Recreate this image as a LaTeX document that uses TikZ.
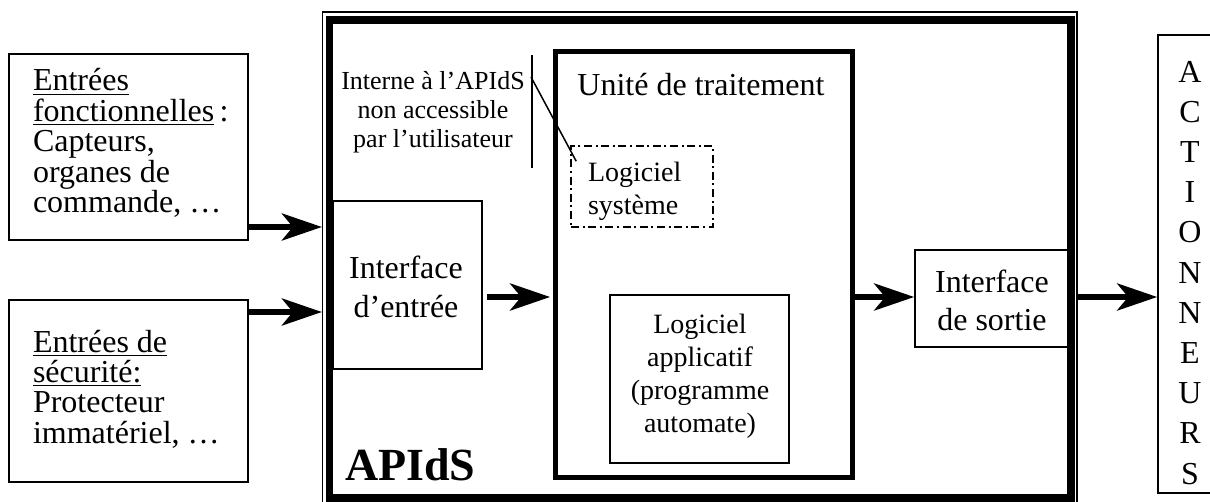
\documentclass[tikz,border=0pt]{standalone}
\usepackage{fontspec}
\setmainfont{Liberation Serif}
\usetikzlibrary{arrows.meta,fit,calc}
\newcommand\myfs[2]{\fontsize{#1}{#2}\selectfont}
\begin{document}
\begin{tikzpicture}[x=0.5pt,y=-0.5pt,
  frame/.style={draw, inner sep=0pt, line width=0.8pt},
  heavy/.style={draw, inner sep=0pt, line width=2.5pt},
  txt/.style={inner sep=0pt, outer sep=0pt},
  arr/.style={line width=3pt, -{Stealth[length=20pt,width=13.5pt,inset=5.5pt]}},
  thin/.style={line width=0.75pt}]
\useasboundingbox (0,0) rectangle (1210,502);

% left input boxes (base anchor = baseline of last line)
\node[frame, fit={(9,54)(248,240)}] (b1) {};
\node[txt, anchor=base west, align=left, font=\myfs{16}{15.25}] (t1) at (33,213)
  {\underline{Entrées}\\\underline{fonctionnelles}\,:\\Capteurs,\\organes de\\commande, …};
\node[frame, fit={(9,300)(248,482)}] (b2) {};
\node[txt, anchor=base west, align=left, font=\myfs{16}{15.1}] (t2) at (33,443)
  {\underline{Entrées de}\\\underline{sécurité:}\\Protecteur\\immatériel, …};

% APIdS outer double frame
\node[draw, inner sep=0pt, line width=0.6pt, fit={(322.5,12)(1077,507)}] (apio) {};
\node[draw, inner sep=0pt, line width=3.6pt, fit={(329.5,20)(1071,498)}] (apids) {};
\node[txt, anchor=base west, font=\bfseries\myfs{23}{23}] (lab) at (345,480) {APIdS};

% interface d'entree
\node[frame, fit={(333,201)(482,369)}] (ie) {};
\node[txt, anchor=base, align=center, font=\myfs{16}{19.5}] (tie) at (406,317) {Interface\\d’entrée};

% unite de traitement
\node[heavy, fit={(555,52)(852,477)}] (ut) {};
\node[txt, anchor=base, font=\myfs{16}{16}] (tut) at (701,96) {Unité de traitement};

% logiciel systeme
\node[draw, inner sep=0pt, line width=0.8pt, dash pattern=on 4pt off 1.8pt on 1pt off 1.8pt,
      fit={(571,146)(713,227)}] (ls) {};
\node[txt, anchor=base west, align=left, font=\myfs{14}{16.5}] (tls) at (588,215) {Logiciel\\système};

% logiciel applicatif
\node[frame, fit={(610,295)(789,463)}] (la) {};
\node[txt, anchor=base, align=center, font=\myfs{14}{16.5}] (tla) at (700,432)
  {Logiciel\\applicatif\\(programme\\automate)};

% interface de sortie
\node[frame, fit={(915,250)(1068,347)}] (is) {};
\node[txt, anchor=base, align=center, font=\myfs{16}{19}] (tis) at (992,330) {Interface\\de sortie};

% actionneurs
\node[frame, fit={(1158,35)(1230,493)}] (act) {};
\node[txt, anchor=base, align=center, font=\myfs{16}{20.1}] (tact) at (1190,484)
  {A\\C\\T\\I\\O\\N\\N\\E\\U\\R\\S};

% annotation
\node[txt, anchor=base, align=center, font=\myfs{13}{14.5}] (ann) at (433,148)
  {Interne à l’APIdS\\non accessible\\par l’utilisateur};
\coordinate (brt) at (532,55);
\coordinate (brb) at (532,168);
\draw[thin] (brt) -- (brb);
\coordinate (lead) at (531,77);
\draw[thin] (lead) -- ($(ls.north west)+(6,16)$);

% arrows
\coordinate (y1) at (0,227);
\coordinate (y2) at (0,312);
\coordinate (y3) at (0,297);
\draw[arr] (b1.east |- y1) -- (apio.west |- y1);
\draw[arr] (b2.east |- y2) -- (apio.west |- y2);
\draw[arr] ([xshift=2pt]ie.east |- y3) -- ([xshift=-1.2pt]ut.west |- y3);
\draw[arr] (ut.east |- y3) -- (is.west |- y3);
\draw[arr] (apio.east |- y3) -- (act.west |- y3);
\end{tikzpicture}
\end{document}
